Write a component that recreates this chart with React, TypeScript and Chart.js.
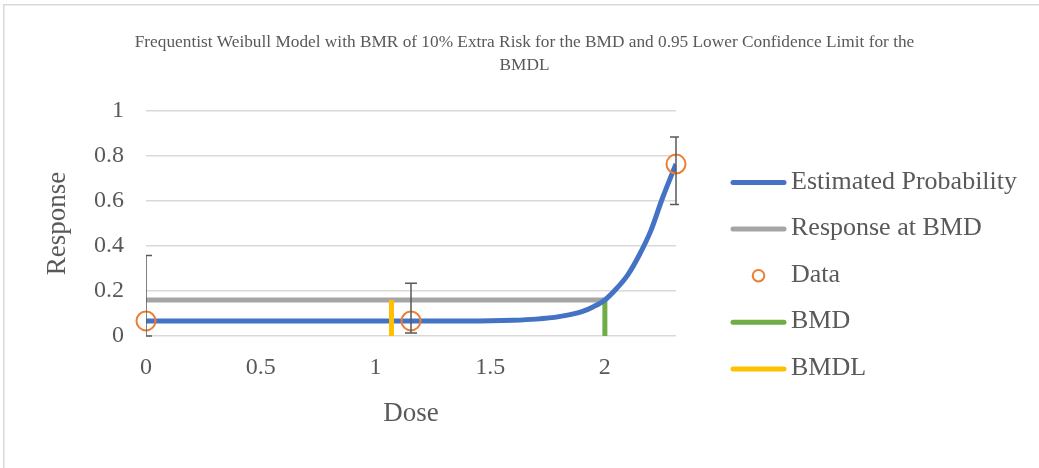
import React, { useEffect, useRef } from 'react';
import { Chart, registerables } from 'chart.js';

Chart.register(...registerables);

const titleLines = [
  'Frequentist Weibull Model with BMR of 10% Extra Risk for the BMD and 0.95 Lower Confidence Limit for the',
  'BMDL',
];
const xAxisTitle = 'Dose';
const yAxisTitle = 'Response';
const xTickValues = [0, 0.5, 1, 1.5, 2];
const xTickLabels = ['0', '0.5', '1', '1.5', '2'];
const yTickValues = [0, 0.2, 0.4, 0.6, 0.8, 1];
const yTickLabels = ['0', '0.2', '0.4', '0.6', '0.8', '1'];
const xMin = 0;
const xMax = 2.31;
const yMin = 0;
const yMax = 1;

const seriesLabels = ['Estimated Probability', 'Response at BMD', 'Data', 'BMD', 'BMDL'];

// Estimated probability curve
const curveDose = [0, 0.5, 1.0, 1.4, 1.6, 1.7, 1.8, 1.9, 1.95, 2.0, 2.05, 2.1, 2.15, 2.2, 2.25, 2.31];
const curveProb = [0.067, 0.067, 0.067, 0.067, 0.07, 0.075, 0.086, 0.108, 0.13, 0.16, 0.21, 0.272, 0.36, 0.467, 0.61, 0.765];

// Observed data with confidence bars
const dataDose = [0, 1.155, 2.31];
const dataResp = [0.067, 0.067, 0.764];
const dataLower = [0, 0.013, 0.585];
const dataUpper = [0.358, 0.235, 0.885];

const bmd = 2.0;
const bmdl = 1.07;
const bmdResponse = 0.16;

const TEXT = '#595959';
const FONT = "'Liberation Serif', 'Times New Roman', serif";
const COLORS = ['#4472C4', '#A5A5A5', '#ED7D31', '#70AD47', '#FFC000'];

const borderPlugin = {
  id: 'outerBorder',
  beforeDraw(chart: any) {
    const ctx = chart.ctx;
    ctx.save();
    ctx.fillStyle = '#ffffff';
    ctx.fillRect(0, 0, chart.width, chart.height);
    ctx.strokeStyle = '#d9d9d9';
    ctx.lineWidth = 1.5;
    ctx.strokeRect(3.75, 4.75, chart.width + 100, chart.height + 100);
    ctx.restore();
  },
};

const errorBarPlugin = {
  id: 'errorBars',
  afterDatasetsDraw(chart: any) {
    const ctx = chart.ctx;
    const xs = chart.scales.x;
    const ys = chart.scales.y;
    const area = chart.chartArea;
    ctx.save();
    ctx.beginPath();
    ctx.rect(area.left, 0, area.right - area.left + 3, chart.height);
    ctx.clip();
    ctx.strokeStyle = '#595959';
    ctx.lineWidth = 1.5;
    const cap = 6;
    for (let i = 0; i < dataDose.length; i++) {
      const px = xs.getPixelForValue(dataDose[i]);
      const lo = ys.getPixelForValue(dataLower[i]);
      const hi = ys.getPixelForValue(dataUpper[i]);
      ctx.beginPath();
      ctx.moveTo(px, lo);
      ctx.lineTo(px, hi);
      ctx.moveTo(px - cap, lo);
      ctx.lineTo(px + cap, lo);
      ctx.moveTo(px - cap, hi);
      ctx.lineTo(px + cap, hi);
      ctx.stroke();
    }
    ctx.restore();
  },
};

const legendPlugin = {
  id: 'customLegend',
  afterDraw(chart: any) {
    const ctx = chart.ctx;
    const x0 = 733;
    const x1 = 784;
    const tx = 791;
    const y0 = 182.5;
    const dy = 46.6;
    ctx.save();
    ctx.font = `26px ${FONT}`;
    ctx.textBaseline = 'alphabetic';
    ctx.textAlign = 'left';
    chart.data.datasets.forEach((ds: any, i: number) => {
      const y = y0 + i * dy;
      if (ds.showLine === false) {
        ctx.beginPath();
        ctx.strokeStyle = ds.pointBorderColor;
        ctx.lineWidth = 2;
        ctx.arc((x0 + x1) / 2, y, 5.8, 0, Math.PI * 2);
        ctx.stroke();
      } else {
        ctx.beginPath();
        ctx.strokeStyle = ds.borderColor;
        ctx.lineWidth = 5;
        ctx.lineCap = 'round';
        ctx.moveTo(x0, y);
        ctx.lineTo(x1, y);
        ctx.stroke();
      }
      ctx.fillStyle = TEXT;
      ctx.fillText(ds.label, tx, y + 6);
    });
    ctx.restore();
  },
};

export default function App() {
  const ref = useRef<HTMLCanvasElement | null>(null);

  useEffect(() => {
    if (!ref.current) return;
    const chart = new Chart(ref.current, {
      type: 'line',
      data: {
        datasets: [
          {
            label: seriesLabels[0],
            data: curveDose.map((d, i) => ({ x: d, y: curveProb[i] })),
            borderColor: COLORS[0],
            borderWidth: 5,
            pointRadius: 0,
            cubicInterpolationMode: 'monotone',
            order: 2,
          },
          {
            label: seriesLabels[1],
            data: [
              { x: 0, y: bmdResponse },
              { x: bmd, y: bmdResponse },
            ],
            borderColor: COLORS[1],
            borderWidth: 5,
            pointRadius: 0,
            order: 4,
          },
          {
            label: seriesLabels[2],
            data: dataDose.map((d, i) => ({ x: d, y: dataResp[i] })),
            showLine: false,
            pointRadius: 9.5,
            pointBorderWidth: 2,
            pointBorderColor: COLORS[2],
            pointBackgroundColor: 'rgba(0,0,0,0)',
            borderColor: COLORS[2],
            clip: false,
            order: 1,
          },
          {
            label: seriesLabels[3],
            data: [
              { x: bmd, y: 0 },
              { x: bmd, y: bmdResponse },
            ],
            borderColor: COLORS[3],
            borderWidth: 5,
            pointRadius: 0,
            order: 3,
          },
          {
            label: seriesLabels[4],
            data: [
              { x: bmdl, y: 0 },
              { x: bmdl, y: bmdResponse },
            ],
            borderColor: COLORS[4],
            borderWidth: 5,
            pointRadius: 0,
            order: 0,
          },
        ] as any,
      },
      options: {
        responsive: false,
        animation: false,
        devicePixelRatio: 1,
        layout: { padding: { left: 10, right: 0, top: 0, bottom: 0 } },
        plugins: {
          legend: { display: false },
          tooltip: { enabled: false },
          title: {
            display: true,
            text: titleLines,
            color: TEXT,
            font: { family: FONT, size: 17.3, weight: 'normal', lineHeight: '23px' } as any,
            padding: { top: 30.5, bottom: 34.5 },
          },
        },
        scales: {
          x: {
            type: 'linear',
            min: xMin,
            max: xMax,
            afterBuildTicks: (axis: any) => {
              axis.ticks = xTickValues.map((v) => ({ value: v }));
            },
            afterFit: (axis: any) => {
              axis.height = 132;
            },
            grid: { display: false, drawTicks: false },
            border: { display: false },
            ticks: {
              color: TEXT,
              font: { family: FONT, size: 24 },
              padding: 17,
              maxRotation: 0,
              autoSkip: false,
              callback: (v: any) => {
                const i = xTickValues.indexOf(Number(v));
                return i >= 0 ? xTickLabels[i] : '';
              },
            },
            title: {
              display: true,
              text: xAxisTitle,
              color: TEXT,
              font: { family: FONT, size: 27 },
              padding: { top: 0, bottom: 38 },
            },
          },
          y: {
            type: 'linear',
            position: 'left',
            min: yMin,
            max: yMax,
            afterBuildTicks: (axis: any) => {
              axis.ticks = yTickValues.map((v) => ({ value: v }));
            },
            afterFit: (axis: any) => {
              axis.width = 136;
            },
            grid: { color: '#d9d9d9', lineWidth: 1.5, drawTicks: false },
            border: { display: false },
            ticks: {
              color: TEXT,
              font: { family: FONT, size: 24 },
              padding: 22,
              autoSkip: false,
              callback: (v: any) => {
                const i = yTickValues.findIndex((t) => Math.abs(t - Number(v)) < 1e-9);
                return i >= 0 ? yTickLabels[i] : '';
              },
            },
            title: {
              display: true,
              text: yAxisTitle,
              color: TEXT,
              font: { family: FONT, size: 27 },
              padding: { top: 32, bottom: 0 },
            },
          },
          legendSpace: {
            type: 'linear',
            position: 'right',
            display: true,
            afterFit: (axis: any) => {
              axis.width = 363;
            },
            grid: { display: false, drawTicks: false },
            border: { display: false },
            ticks: { display: false },
          },
        } as any,
      },
      plugins: [borderPlugin, errorBarPlugin, legendPlugin],
    });
    return () => chart.destroy();
  }, []);

  return (
    <div style={{ position: 'absolute', left: 0, top: 0, width: 1039, height: 468 }}>
      <canvas ref={ref} width={1039} height={468} style={{ display: 'block' }} />
    </div>
  );
}
